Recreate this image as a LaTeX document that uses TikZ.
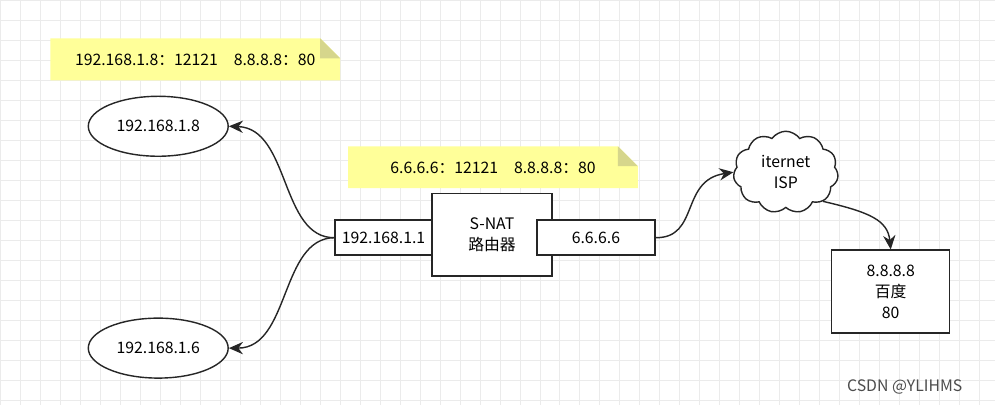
\documentclass[tikz,border=0pt]{standalone}
\usepackage{fontspec}
\setmainfont{Noto Sans CJK SC}
\usetikzlibrary{shapes.symbols,shapes.geometric,arrows.meta}
\definecolor{noteyellow}{HTML}{FFFF99}
\definecolor{notefold}{HTML}{D6D68C}
\definecolor{gridgray}{HTML}{EBEBEB}
\tikzset{
	box/.style={draw=black!85, thick, fill=white, font=\small, align=center},
	link/.style={draw=black!85, thick, -{Stealth[length=8pt,width=7pt]}},
	note/.style={fill=noteyellow, font=\small, anchor=north west, inner sep=0pt}
}
\begin{document}
\begin{tikzpicture}[x=0.02cm, y=-0.02cm]
		\fill[white] (0,0) rectangle (995,405);
		\draw[gridgray, step=0.4cm] (0,0) grid (995,405);
		% notes
		\fill[noteyellow] (50,38) -- (320,38) -- (340,58) -- (340,80) -- (50,80) -- cycle;
		\fill[notefold] (320,38) -- (340,58) -- (320,58) -- cycle;
		\node[font=\small] (note1) at (195,60) {192.168.1.8：12121\quad 8.8.8.8：80};
		\fill[noteyellow] (348,146) -- (618,146) -- (638,166) -- (638,188) -- (348,188) -- cycle;
		\fill[notefold] (618,146) -- (638,166) -- (618,166) -- cycle;
		\node[font=\small] (note2) at (493,168) {6.6.6.6：12121\quad 8.8.8.8：80};
		% hosts
		\node[box, ellipse, minimum width=140*0.02cm, minimum height=60*0.02cm] (hosta) at (158,126) {192.168.1.8};
		\node[box, ellipse, minimum width=140*0.02cm, minimum height=60*0.02cm] (hostb) at (158,348) {192.168.1.6};
		% router
		\node[box, minimum width=120*0.02cm, minimum height=83*0.02cm] (router) at (492,234.5) {S-NAT\\[1pt]路由器};
		\node[box, minimum width=97*0.02cm, minimum height=35*0.02cm] (lan) at (383.5,237.5) {192.168.1.1};
		\node[box, minimum width=118*0.02cm, minimum height=35*0.02cm] (wan) at (596,237.5) {6.6.6.6};
		% internet
		\node[box, cloud, cloud puffs=11, cloud puff arc=110, aspect=1.3, minimum width=105*0.02cm, minimum height=82*0.02cm, inner sep=0pt] (isp) at (786,172) {iternet\\[1pt]ISP};
		\node[box, minimum width=118*0.02cm, minimum height=83*0.02cm] (baidu) at (891,291.5) {8.8.8.8\\[1pt]百度\\[1pt]80};
		% links
		\draw[link] (lan.west) .. controls (280,238) and (290,128) .. (hosta.east);
		\draw[link] (lan.west) .. controls (280,238) and (290,348) .. (hostb.east);
		\draw[link] (wan.east) .. controls (700,238) and (680,180) .. (isp.west);
		\draw[link] (isp.south east) .. controls (870,212) and (888,220) .. (baidu.north);
		\node[font=\small, text=black!70] (mark) at (905,387) {CSDN @YLIHMS};
\end{tikzpicture}
\end{document}
